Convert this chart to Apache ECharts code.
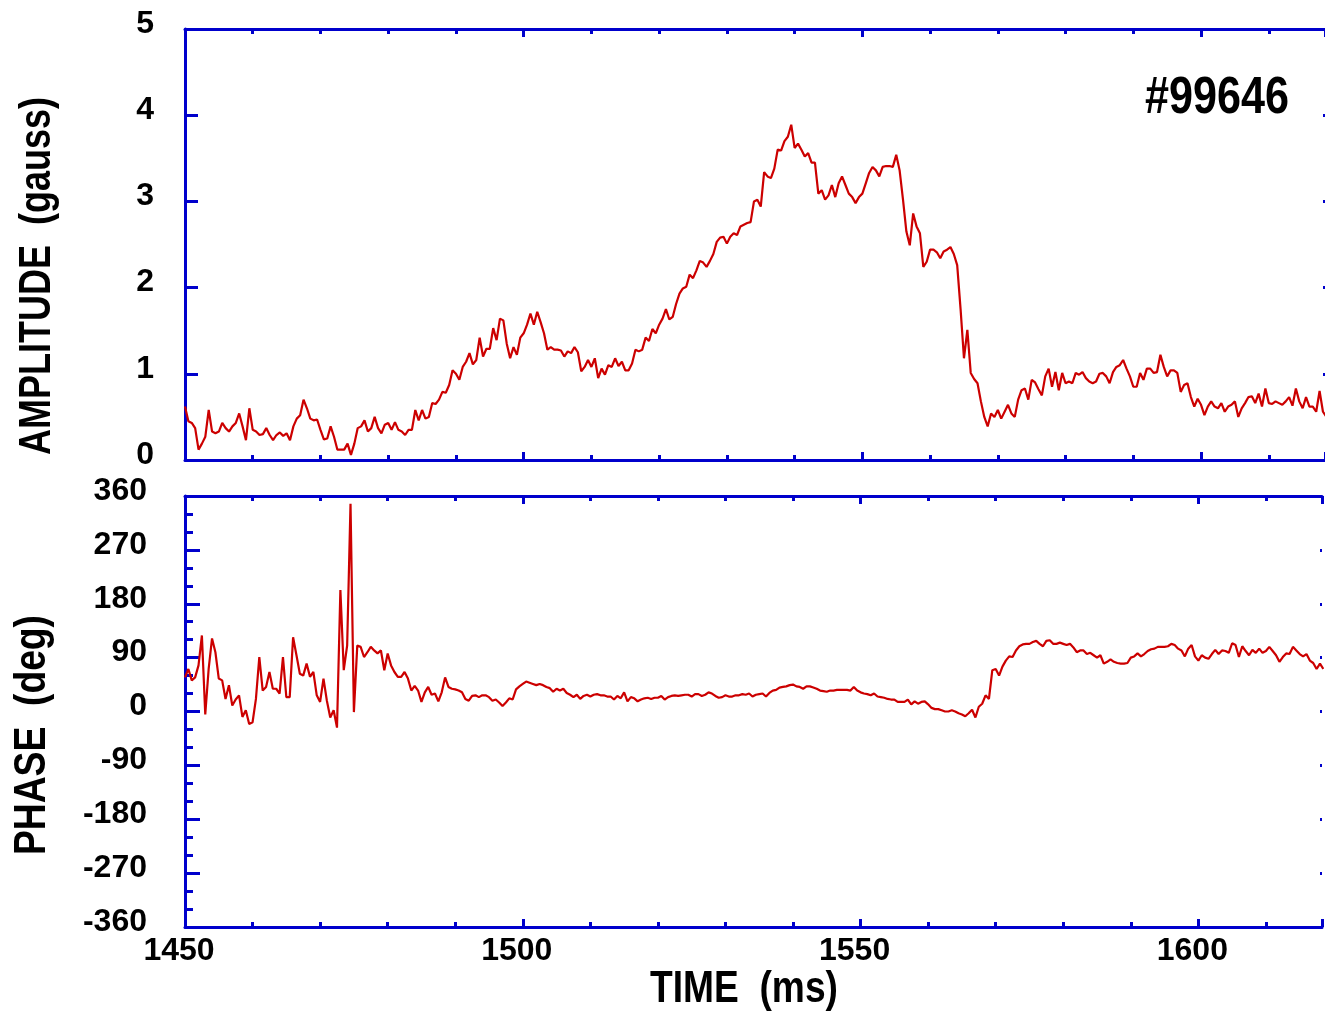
<!DOCTYPE html>
<html><head><meta charset="utf-8">
<script src="https://cdn.jsdelivr.net/npm/echarts@6/dist/echarts.min.js"></script>
<style>html,body{margin:0;padding:0;background:#fff}#chart{width:1325px;height:1014px}</style>
</head><body><div id="chart"></div>
<script>
// ---- data (sampled every 0.5 ms starting at 1450 ms) ----
const timeStart = 1450;
const timeStep = 0.5;
const amplitude = [
0.62,0.45,0.43,0.37,0.12,0.19,0.27,0.58,0.33,0.31,
0.33,0.43,0.37,0.33,0.39,0.43,0.54,0.39,0.23,0.60,
0.35,0.33,0.29,0.30,0.37,0.29,0.23,0.29,0.32,0.28,
0.31,0.23,0.39,0.48,0.52,0.70,0.60,0.48,0.46,0.47,
0.35,0.24,0.25,0.39,0.27,0.12,0.12,0.12,0.19,0.06,
0.19,0.37,0.39,0.46,0.33,0.37,0.50,0.37,0.31,0.41,
0.43,0.35,0.44,0.35,0.33,0.29,0.35,0.35,0.58,0.46,
0.58,0.48,0.50,0.66,0.65,0.70,0.79,0.78,0.87,1.04,
1.00,0.93,1.08,1.14,1.24,1.11,1.16,1.42,1.20,1.29,
1.29,1.53,1.39,1.64,1.62,1.35,1.18,1.31,1.22,1.42,
1.47,1.57,1.70,1.57,1.72,1.60,1.47,1.28,1.31,1.28,
1.28,1.27,1.20,
1.26,1.24,1.31,1.25,1.03,1.08,1.16,1.08,1.18,0.95,
1.06,0.99,1.10,1.08,1.18,1.09,1.14,1.04,1.04,1.12,
1.28,1.26,1.28,1.42,1.38,1.52,1.47,1.57,1.64,1.75,
1.63,1.66,1.81,1.93,1.99,2.01,2.15,2.11,2.20,2.31,
2.29,2.24,2.31,2.39,2.53,2.58,2.59,2.51,2.59,2.63,
2.61,2.71,2.73,2.75,2.76,3.00,3.02,2.94,3.34,3.29,
3.27,3.38,3.60,3.59,3.70,3.75,3.89,3.62,3.67,3.60,
3.52,3.56,3.45,3.45,3.09,3.13,3.02,3.07,3.19,3.05,
3.21,3.29,3.19,3.09,3.05,2.98,3.05,3.09,3.21,3.33,
3.40,3.36,3.29,3.40,3.41,3.41,3.40,3.54,3.36,3.02,
2.65,2.49,2.86,2.71,2.63,2.24,2.30,2.44,2.44,2.41,
2.34,2.42,2.44,2.47,2.39,2.26,1.75,
1.18,1.51,1.01,0.94,0.89,0.68,0.50,0.39,0.54,0.50,
0.58,0.48,0.56,0.64,0.54,0.50,0.70,0.81,0.83,0.70,
0.93,0.90,0.82,0.75,0.97,1.06,0.85,1.02,0.81,1.01,
0.89,0.91,0.89,1.01,0.99,1.02,0.95,0.91,0.89,0.91,
1.00,1.01,0.97,0.89,1.02,1.08,1.10,1.16,1.06,0.97,
0.85,0.85,1.01,0.93,1.06,1.06,1.01,1.02,1.22,1.08,
0.97,1.04,1.04,1.01,0.79,0.87,0.89,0.73,0.62,0.71,
0.64,0.52,0.62,0.68,0.62,0.60,0.66,0.56,0.62,0.64,
0.68,0.50,0.60,0.66,0.73,0.74,0.66,0.77,0.62,0.83,
0.66,0.65,0.68,0.66,0.64,0.68,0.73,0.63,0.83,0.68,
0.60,0.73,0.62,0.62,0.56,0.80,0.56,0.50
];
const phase = [
57,71,52,57,77,127,-5,71,122,99,55,52,21,44,10,20,27,-9,2,-21,-18,21,91,35,41,66,38,38,
30,91,24,24,124,94,63,60,80,58,66,27,16,55,18,-10,2,-27,203,69,110,347,-1,110,108,
91,99,108,102,97,102,69,97,77,66,58,58,66,55,35,43,35,16,32,41,
28,30,17,32,57,41,38,37,35,32,
21,18,26,27,24,27,27,24,18,20,
15,9,15,22,20,37,42,46,50,48,
46,44,46,44,41,39,33,38,35,38,
31,28,24,28,21,26,28,25,28,29,
27,27,25,25,20,26,22,32,17,24,
22,17,20,22,23,21,23,23,26,20,
24,26,27,26,27,28,28,25,29,29,
26,28,32,30,26,23,24,27,25,25,
27,27,29,28,30,
25,28,29,30,25,31,35,36,40,41,
42,44,45,42,41,38,42,42,40,38,
35,34,33,35,35,36,36,36,36,35,
41,35,32,30,29,27,30,25,24,23,
21,20,20,16,16,16,20,12,17,13,
16,17,12,6,4,4,2,0,0,2,
0,-3,-5,-8,-3,3,-10,8,13,27,
21,69,71,60,75,85,92,91,102,109,
112,113,113,116,118,113,109,118,119,113,
113,115,113,111,113,107,99,102,102,96,
98,94,90,94,80,83,87,83,81,80,
80,81,90,92,97,92,96,101,104,105,
108,108,108,109,113,111,105,102,92,105,
111,92,85,94,90,88,96,103,96,102,
101,98,114,111,91,109,101,94,103,98,
105,98,101,108,101,94,83,91,97,96,
108,102,96,92,96,85,81,71,80,71
];
const timeTicks = [1450, 1500, 1550, 1600];
const timeMax = 1618.3;
const ampTicks = [0, 1, 2, 3, 4, 5];
const phaseTicks = [-360, -270, -180, -90, 0, 90, 180, 270, 360];
const shotLabel = '#99646';
const ampTitle = 'AMPLITUDE  (gauss)';
const phaseTitle = 'PHASE  (deg)';
const timeTitle = 'TIME  (ms)';

// ---- styling ----
const BLUE = '#0000cc';
const RED = '#cc0000';
const FONT = '"Liberation Sans Narrow", "Liberation Sans", Arial, sans-serif';
const TICK_FONT = 32;

const time = amplitude.map((_, i) => timeStart + i * timeStep);
const ampData = amplitude.map((v, i) => [time[i], v]);
const phaseData = phase.map((v, i) => [time[i], v]);

// x axes: one for minor ticks (every 10 ms) with line + labels, one for the longer 50 ms ticks
function xMinor(grid, position, withLabels) {
  return {
    type: 'value', gridIndex: grid, position: position,
    min: timeTicks[0], max: timeMax, interval: 10,
    axisLine: { show: true, onZero: false, lineStyle: { color: BLUE, width: 3 } },
    axisTick: { show: true, inside: true, length: 5, lineStyle: { color: BLUE, width: 3 } },
    splitLine: { show: false },
    axisLabel: {
      show: withLabels, margin: 8, color: '#000', fontSize: TICK_FONT, fontWeight: 'bold', fontFamily: FONT,
      padding: [0, 12, 0, 0], showMinLabel: true, showMaxLabel: true, hideOverlap: false,
      formatter: v => (timeTicks.indexOf(Math.round(v * 1000) / 1000) >= 0 ? String(v) : '')
    }
  };
}
function xMajor(grid, position) {
  return {
    type: 'value', gridIndex: grid, position: position,
    min: timeTicks[0], max: timeMax, interval: 50,
    axisLine: { show: false, onZero: false },
    axisTick: { show: true, inside: true, length: 8, lineStyle: { color: BLUE, width: 3 } },
    splitLine: { show: false },
    axisLabel: { show: false }
  };
}
function yAxisDef(grid, position, ticks, tickLen, minor, withLabels, margin) {
  return {
    type: 'value', gridIndex: grid, position: position,
    min: ticks[0], max: ticks[ticks.length - 1], interval: ticks[1] - ticks[0],
    axisLine: { show: withLabels, onZero: false, lineStyle: { color: BLUE, width: 3 } },
    axisTick: { show: true, inside: true, length: tickLen, lineStyle: { color: BLUE, width: 3 } },
    minorTick: { show: !!minor, splitNumber: minor || 5, length: 8, lineStyle: { color: BLUE, width: 3 } },
    splitLine: { show: false }, minorSplitLine: { show: false },
    axisLabel: {
      show: withLabels, margin: margin, color: '#000', fontSize: TICK_FONT, fontWeight: 'bold', fontFamily: FONT,
      verticalAlign: 'bottom', lineHeight: 10, showMinLabel: true, showMaxLabel: true
    }
  };
}

// fit title text to the measured width of the reference by horizontal scaling
const measureCtx = document.createElement('canvas').getContext('2d');
function titleText(text, size, cx, cy, rot, targetWidth) {
  measureCtx.font = 'bold ' + size + 'px ' + FONT;
  const w = measureCtx.measureText(text).width || targetWidth;
  const sx = targetWidth / w;
  return {
    type: 'text', x: cx, y: cy, rotation: rot, scaleX: sx, scaleY: 1,
    style: { text: text, fontSize: size, fontWeight: 'bold', fontFamily: FONT, fill: '#000',
             align: 'center', verticalAlign: 'middle', textAlign: 'center', textVerticalAlign: 'middle' }
  };
}

const chart = echarts.init(document.getElementById('chart'), null, { renderer: 'canvas' });
chart.setOption({
  animation: false,
  backgroundColor: '#fff',
  grid: [
    { left: 185, top: 29, right: 0, height: 431 },
    { left: 185, top: 496, right: 0, height: 431 }
  ],
  xAxis: [
    xMinor(0, 'bottom', false),
    xMinor(0, 'top', false),
    xMajor(0, 'bottom'),
    xMajor(0, 'top'),
    xMinor(1, 'bottom', true),
    xMinor(1, 'top', false),
    xMajor(1, 'bottom'),
    xMajor(1, 'top')
  ],
  yAxis: [
    yAxisDef(0, 'left', ampTicks, 13, 0, true, 31),
    yAxisDef(0, 'right', ampTicks, 2, 0, false, 8),
    yAxisDef(1, 'left', phaseTicks, 15, 3, true, 38),
    yAxisDef(1, 'right', phaseTicks, 2, 0, false, 8)
  ],
  series: [
    { type: 'line', xAxisIndex: 0, yAxisIndex: 0, data: ampData, showSymbol: false,
      lineStyle: { color: RED, width: 2.2 }, itemStyle: { color: RED } },
    { type: 'line', xAxisIndex: 4, yAxisIndex: 2, data: phaseData, showSymbol: false,
      lineStyle: { color: RED, width: 2.2 }, itemStyle: { color: RED } }
  ],
  graphic: [
    titleText(ampTitle, 44, 38, 276, Math.PI / 2, 358),
    titleText(phaseTitle, 44, 33, 735, Math.PI / 2, 240),
    titleText(timeTitle, 44, 744, 990, 0, 188),
    titleText(shotLabel, 52, 1217, 99, 0, 144)
  ]
});
</script>
</body></html>
